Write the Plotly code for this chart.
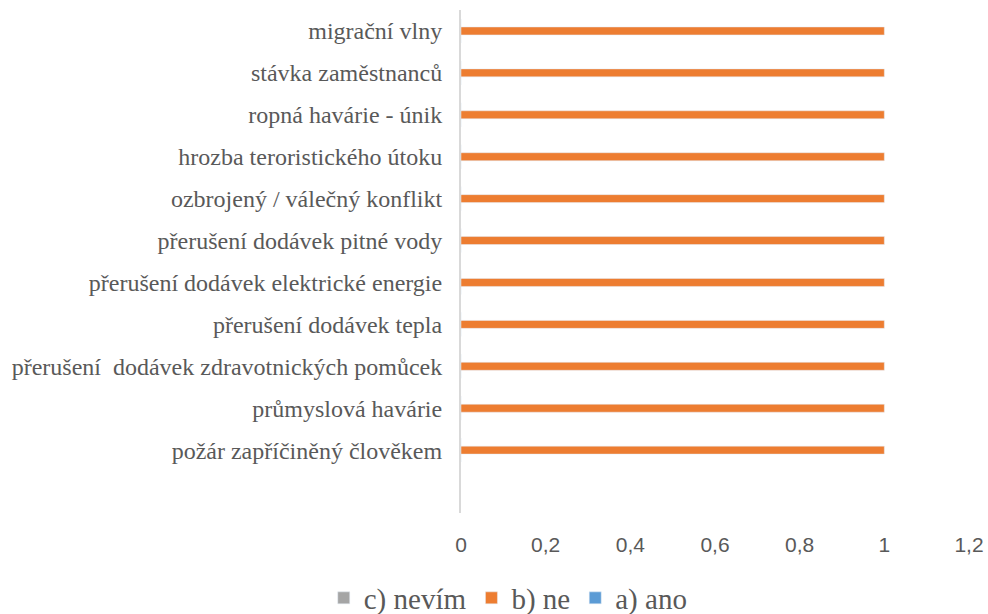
import plotly.graph_objects as go

categories = [
    "požár zapříčiněný člověkem",
    "průmyslová havárie",
    "přerušení  dodávek zdravotnických pomůcek",
    "přerušení dodávek tepla",
    "přerušení dodávek elektrické energie",
    "přerušení dodávek pitné vody",
    "ozbrojený / válečný konflikt",
    "hrozba teroristického útoku",
    "ropná havárie - únik",
    "stávka zaměstnanců",
    "migrační vlny",
]
ano = [0] * 11
ne = [1] * 11
nevim = [0] * 11
x_ticks = [0, 0.2, 0.4, 0.6, 0.8, 1, 1.2]

SERIF = "Liberation Serif, Times New Roman, serif"
SANS = "Liberation Sans, Arial, sans-serif"

fig = go.Figure()
fig.add_trace(go.Bar(y=categories, x=ano, orientation="h", name="a) ano", marker_color="#5B9BD5"))
fig.add_trace(go.Bar(y=categories, x=ne, orientation="h", name="b) ne", marker_color="#ED7D31"))
fig.add_trace(go.Bar(y=categories, x=nevim, orientation="h", name="c) nevím", marker_color="#A5A5A5"))

fig.update_layout(
    width=988, height=614,
    margin=dict(l=461, r=19, t=10, b=101, autoexpand=False),
    paper_bgcolor="white", plot_bgcolor="white",
    barmode="group", bargap=0.43, bargroupgap=0,
    separators=", ",
    showlegend=True,
    legend=dict(orientation="h", traceorder="reversed", x=0.093, xanchor="center",
                y=-0.169, yanchor="middle", bgcolor="rgba(0,0,0,0)",
                font=dict(family=SERIF, size=29, color="#595959"),
                itemwidth=30, tracegroupgap=0),
    font=dict(family=SERIF, color="#595959"),
)
fig.update_xaxes(range=[0, 1.2], tickvals=x_ticks, showgrid=False, zeroline=False,
                 showline=False, ticks="", ticklabelstandoff=17,
                 tickfont=dict(family=SANS, size=21, color="#595959"))
fig.update_yaxes(type="category", categoryorder="array", categoryarray=categories,
                 range=[-1.5, 10.5], showgrid=False, zeroline=False,
                 showline=True, linecolor="#D9D9D9", linewidth=2,
                 ticks="", ticklabelstandoff=12,
                 tickfont=dict(family=SERIF, size=24, color="#595959"))
fig.write_html("out.html", post_script="document.body.style.margin='0';",
               config={"displayModeBar": False})
